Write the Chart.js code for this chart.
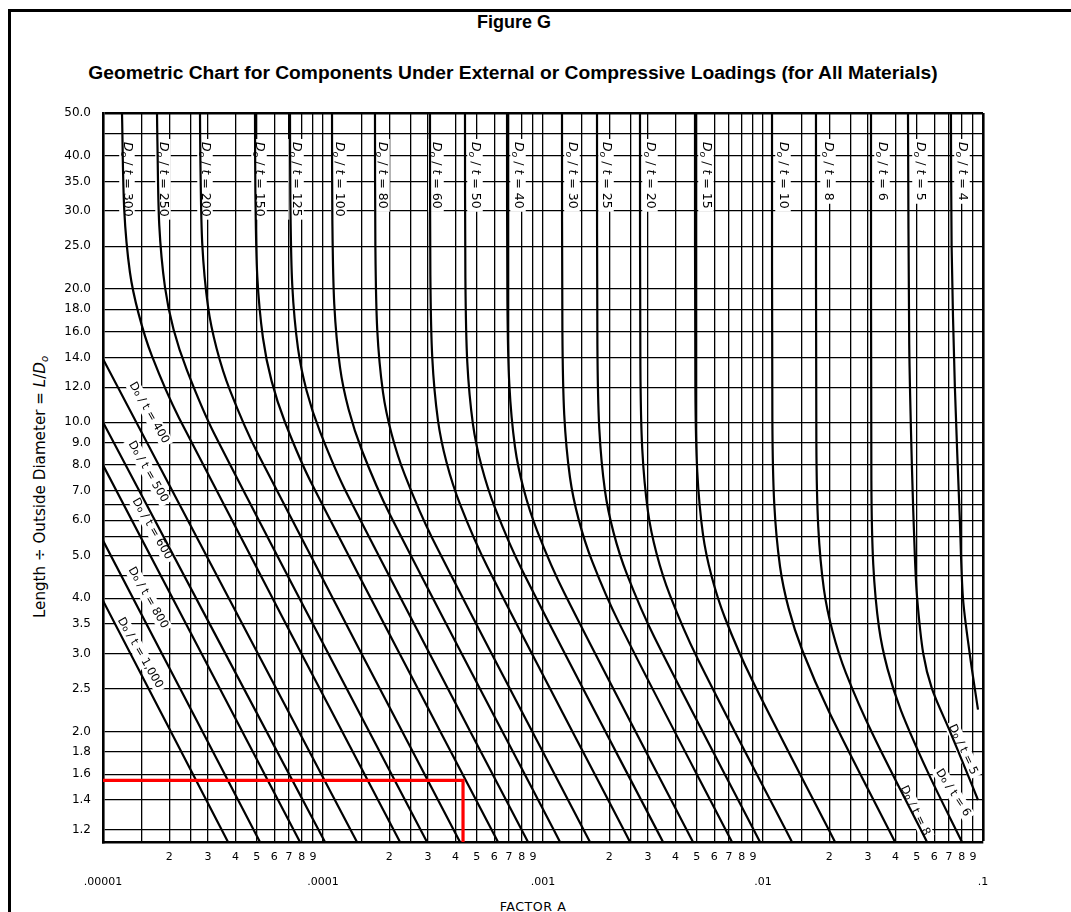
<!DOCTYPE html>
<html>
<head>
<meta charset="utf-8">
<script src="https://cdn.jsdelivr.net/npm/chart.js@4.4.1/dist/chart.umd.min.js"></script>
<style>
  html, body { margin: 0; padding: 0; background: #fff; }
  body { width: 1071px; height: 912px; position: relative; overflow: hidden; font-family: 'DejaVu Sans', sans-serif; }
  #grafico { position: absolute; left: 0; top: 0; }
  #marco { position: absolute; left: 8px; top: 9px; width: 1200px; height: 1000px; border-top: 3px solid #000; border-left: 3px solid #000; }
  .txt { position: absolute; white-space: nowrap; transform: translate(-50%, -50%); color: #000; }
  #fig { left: 514px; top: 22px; font: bold 18px 'Liberation Sans', Arial, sans-serif; }
  #sub { left: 513px; top: 73px; font: bold 18px 'Liberation Sans', Arial, sans-serif; }
  #ytit { left: 40px; top: 487px; font-size: 14px; transform: translate(-50%, -50%) rotate(-90deg); }
  #ytit sub { font-size: 10px; vertical-align: -3px; line-height: 0; }
  #xtit { left: 533px; top: 906px; font-size: 12.5px; letter-spacing: 0.5px; }
</style>
</head>
<body>
<div id="marco"></div>
<div class="txt" id="fig">Figure G</div>
<div class="txt" id="sub">Geometric Chart for Components Under External or Compressive Loadings (for All Materials)</div>
<div class="txt" id="ytit">Length ÷ Outside Diameter = <i>L</i>/<i>D<sub>o</sub></i></div>
<div class="txt" id="xtit">FACTOR A</div>
<canvas id="grafico" width="1071" height="912"></canvas>
<script>
// ejes
const aMin = 1e-5, aMax = 0.1;
const ldMin = 1.125, ldMax = 50;

const ldGrid = [50, 45, 40, 35, 30, 25, 20, 18, 16, 14, 12, 10, 9, 8, 7, 6.5, 6, 5.5, 5, 4.5, 4, 3.5, 3, 2.5, 2, 1.8, 1.6, 1.4, 1.2];
const ldLabelled = [50, 40, 35, 30, 25, 20, 18, 16, 14, 12, 10, 9, 8, 7, 6, 5, 4, 3.5, 3, 2.5, 2, 1.8, 1.6, 1.4, 1.2];

const decades = [1e-5, 1e-4, 1e-3, 1e-2];
const decadeText = ['.00001', '.0001', '.001', '.01', '.1'];
const mantissas = [1, 1.5, 2, 2.5, 3, 4, 5, 6, 7, 8, 9];
const mantissaText = ['', '', '2', '', '3', '4', '5', '6', '7', '8', '9'];

// curvas Do/t : pares [factor A, L/Do]
const dt1000 = [[1e-5, 3.95], [3.70e-5, 1.125]];
const dt800 = [[1e-5, 5.4], [5.17e-5, 1.125]];
const dt600 = [[1e-5, 8.0], [7.86e-5, 1.125]];
const dt500 = [[1e-5, 10.0], [1.021e-4, 1.125]];
const dt400 = [[1e-5, 13.9], [1.427e-4, 1.125]];
const dt300 = [[1.220e-5, 50], [1.249e-5, 30.2], [1.326e-5, 21.8], [1.451e-5, 17.6], [1.670e-5, 14.1], [2.222e-5, 10.2], [2.239e-4, 1.125]];
const dt250 = [[1.760e-5, 50], [1.767e-5, 43.2], [1.802e-5, 27.9], [1.913e-5, 20.2], [2.093e-5, 16.2], [2.409e-5, 13.1], [3.205e-5, 9.42], [2.970e-4, 1.125]];
const dt200 = [[2.760e-5, 50], [2.771e-5, 39.1], [2.826e-5, 25.3], [3.000e-5, 18.3], [3.282e-5, 14.7], [3.778e-5, 11.8], [5.026e-5, 8.54], [4.195e-4, 1.125]];
const dt150 = [[4.908e-5, 50], [4.928e-5, 33.1], [5.026e-5, 21.4], [5.335e-5, 15.5], [5.836e-5, 12.4], [6.719e-5, 10.0], [8.937e-5, 7.22], [6.245e-4, 1.125]];
const dt125 = [[7.079e-5, 50], [7.107e-5, 31.5], [7.249e-5, 20.4], [7.695e-5, 14.7], [8.417e-5, 11.8], [9.691e-5, 9.52], [1.289e-4, 6.87], [8.548e-4, 1.125]];
const dt100 = [[1.099e-4, 50], [1.103e-4, 28.5], [1.125e-4, 18.5], [1.195e-4, 13.3], [1.307e-4, 10.7], [1.505e-4, 8.62], [2.001e-4, 6.23], [1.195e-3, 1.125]];
const dt80 = [[1.723e-4, 50], [1.730e-4, 25.1], [1.764e-4, 16.2], [1.873e-4, 11.7], [2.049e-4, 9.42], [2.359e-4, 7.58], [3.138e-4, 5.47], [1.635e-3, 1.125]];
const dt60 = [[3.064e-4, 50], [3.076e-4, 21.6], [3.138e-4, 14.0], [3.331e-4, 10.1], [3.643e-4, 8.12], [4.195e-4, 6.53], [5.580e-4, 4.72], [2.486e-3, 1.125]];
const dt50 = [[4.420e-4, 50], [4.438e-4, 21.2], [4.526e-4, 13.7], [4.805e-4, 9.89], [5.255e-4, 7.96], [6.051e-4, 6.40], [8.049e-4, 4.62], [3.512e-3, 1.125]];
const dt40 = [[6.863e-4, 50], [6.890e-4, 18.8], [7.028e-4, 12.2], [7.460e-4, 8.79], [8.160e-4, 7.07], [9.395e-4, 5.69], [1.250e-3, 4.11], [4.806e-3, 1.125]];
const dt30 = [[1.220e-3, 50], [1.225e-3, 16.1], [1.249e-3, 10.4], [1.326e-3, 7.51], [1.451e-3, 6.04], [1.670e-3, 4.86], [2.222e-3, 3.51], [7.230e-3, 1.125]];
const dt25 = [[1.760e-3, 50], [1.767e-3, 15.0], [1.802e-3, 9.69], [1.913e-3, 7.00], [2.093e-3, 5.63], [2.409e-3, 4.53], [3.205e-3, 3.27], [9.692e-3, 1.125]];
const dt20 = [[2.760e-3, 50], [2.771e-3, 13.4], [2.826e-3, 8.70], [3.000e-3, 6.28], [3.282e-3, 5.05], [3.778e-3, 4.06], [5.026e-3, 2.93], [1.354e-2, 1.125]];
const dt15 = [[4.908e-3, 50], [4.928e-3, 11.9], [5.026e-3, 7.73], [5.335e-3, 5.58], [5.836e-3, 4.49], [6.719e-3, 3.61], [8.937e-3, 2.61], [2.125e-2, 1.125]];
const dt10 = [[1.099e-2, 50], [1.103e-2, 10.1], [1.125e-2, 6.54], [1.195e-2, 4.72], [1.307e-2, 3.80], [1.505e-2, 3.06], [2.001e-2, 2.21], [3.981e-2, 1.125]];
const dt8 = [[1.741e-2, 50], [1.748e-2, 8.96], [1.783e-2, 5.80], [1.892e-2, 4.19], [2.070e-2, 3.37], [2.383e-2, 2.71], [3.170e-2, 1.96], [5.566e-2, 1.125]];
const dt6 = [[3.097e-2, 50], [3.109e-2, 7.37], [3.171e-2, 4.77], [3.366e-2, 3.44], [3.682e-2, 2.77], [4.240e-2, 2.23], [5.640e-2, 1.61], [8.025e-2, 1.125]];
const dt5 = [[4.561e-2, 50], [4.62e-2, 15], [4.75e-2, 8], [4.90e-2, 5], [5.02e-2, 4], [5.35e-2, 3], [5.86e-2, 2.5], [7.08e-2, 2.0], [8.3e-2, 1.65], [9.49e-2, 1.40]];
const dt4 = [[7.15e-2, 50], [7.20e-2, 25], [7.45e-2, 12], [7.85e-2, 6], [8.11e-2, 4], [8.7e-2, 3], [9.49e-2, 2.24]];

// linea roja de lectura
const redPath = [[1e-5, 1.55], [4.33e-4, 1.55], [4.33e-4, 1.125]];

// rotulos
const topLabelDt = ['300', '250', '200', '150', '125', '100', '80', '60', '50', '40', '30', '25', '20', '15', '10', '8', '6', '5', '4'];
const topLabelA = [1.285e-5, 1.874e-5, 2.908e-5, 5.118e-5, 7.540e-5, 1.182e-4, 1.854e-4, 3.263e-4, 4.908e-4, 7.698e-4, 1.354e-3, 1.934e-3, 3.064e-3, 5.506e-3, 1.233e-2, 1.975e-2, 3.475e-2, 5.171e-2, 8.025e-2];
const topLabelLD = 43;
const diagLabelDt = ['400', '500', '600', '800', '1,000'];
const diagLabelA = [1.618e-5, 1.601e-5, 1.670e-5, 1.601e-5, 1.473e-5];
const diagLabelLD = [10.5, 7.73, 5.74, 4.01, 3.01];
const lowLabelDt = ['5', '6', '8'];
const lowLabelA = [0.0811, 0.0731, 0.0491];
const lowLabelLD = [1.82, 1.454, 1.324];

const curves = [dt1000, dt800, dt600, dt500, dt400, dt300, dt250, dt200, dt150, dt125, dt100, dt80,
  dt60, dt50, dt40, dt30, dt25, dt20, dt15, dt10, dt8, dt6, dt5, dt4];

const xTicks = [];
decades.forEach((d, i) => {
  mantissas.forEach((m, j) => {
    xTicks.push({ value: m * d, txt: j === 0 ? ['', decadeText[i]] : mantissaText[j] });
  });
});
xTicks.push({ value: aMax, txt: ['', decadeText[4]] });

const fitText = (id, target) => {
  const el = document.getElementById(id);
  const size = parseFloat(getComputedStyle(el).fontSize);
  el.style.fontSize = (size * target / el.offsetWidth) + 'px';
};
fitText('sub', 849);
fitText('ytit', 263);
fitText('xtit', 67);

function partsFor(num, italic, plainO) {
  return [
    { t: 'D', it: italic },
    { t: 'o', it: italic, sub: !plainO, small: true },
    { t: ' / ', it: false },
    { t: 't', it: italic },
    { t: ' = ' + num, it: false }
  ];
}

function drawTag(ctx, parts, x, y, angle, size, anchor) {
  const fam = "'DejaVu Sans', sans-serif";
  ctx.save();
  ctx.translate(x, y);
  ctx.rotate(angle * Math.PI / 180);
  const fontOf = p => (p.it ? 'italic ' : '') + (p.small ? size * 0.75 : size) + 'px ' + fam;
  const widths = parts.map(p => { ctx.font = fontOf(p); return ctx.measureText(p.t).width; });
  const w = widths.reduce((a, b) => a + b, 0);
  let cx = anchor === 'start' ? 0 : -w / 2;
  ctx.fillStyle = '#fff';
  ctx.fillRect(cx - 3, -size * 0.62, w + 6, size * 1.24);
  ctx.fillStyle = '#000';
  ctx.textBaseline = 'middle';
  parts.forEach((p, i) => {
    ctx.font = fontOf(p);
    ctx.fillText(p.t, cx, p.sub ? size * 0.28 : (p.small ? size * 0.08 : 0));
    cx += widths[i];
  });
  ctx.restore();
}

const tagPlugin = {
  id: 'tags',
  beforeDatasetsDraw(chart) {
    const { ctx, scales: { x, y } } = chart;
    topLabelDt.forEach((d, i) => {
      drawTag(ctx, partsFor(d, true, false), x.getPixelForValue(topLabelA[i]), y.getPixelForValue(topLabelLD), 90, 12.5, 'start');
    });
    diagLabelDt.forEach((d, i) => {
      drawTag(ctx, partsFor(d, false, true), x.getPixelForValue(diagLabelA[i]), y.getPixelForValue(diagLabelLD[i]), 60, 11.5, 'center');
    });
    const lowAngles = [65, 57, 64];
    lowLabelDt.forEach((d, i) => {
      drawTag(ctx, partsFor(d, false, true), x.getPixelForValue(lowLabelA[i]), y.getPixelForValue(lowLabelLD[i]), lowAngles[i], 11.5, 'center');
    });
  }
};

const datasets = curves.map(pts => ({
  data: pts.map(([a, ld]) => ({ x: a, y: ld })),
  showLine: true,
  borderColor: '#000',
  borderWidth: 2.2,
  pointRadius: 0,
  tension: 0.3,
  fill: false
}));
datasets.push({
  data: redPath.map(([a, ld]) => ({ x: a, y: ld })),
  showLine: true,
  borderColor: '#ff0000',
  borderWidth: 3.2,
  pointRadius: 0,
  tension: 0,
  order: -1
});

new Chart(document.getElementById('grafico'), {
  type: 'scatter',
  data: { datasets },
  plugins: [tagPlugin],
  options: {
    responsive: false,
    animation: false,
    events: [],
    layout: { padding: { left: 0, right: 88, top: 113, bottom: 0 } },
    plugins: { legend: { display: false }, tooltip: { enabled: false } },
    scales: {
      x: {
        type: 'logarithmic',
        min: aMin,
        max: aMax,
        afterBuildTicks: s => { s.ticks = xTicks.map(t => ({ value: t.value, txt: t.txt })); },
        afterFit: s => { s.height = 70; },
        ticks: {
          autoSkip: false,
          maxRotation: 0,
          minRotation: 0,
          padding: 3,
          color: '#000',
          font: { family: "'DejaVu Sans', sans-serif", size: 11, lineHeight: '25px' },
          callback: (v, i, ticks) => ticks[i].txt
        },
        grid: {
          color: '#000',
          drawTicks: false,
          lineWidth: c => (c.tick && c.tick.value === aMax ? 2.6 : 1.3)
        },
        border: { display: true, color: '#000', width: 2.6 }
      },
      y: {
        type: 'logarithmic',
        min: ldMin,
        max: ldMax,
        afterBuildTicks: s => { s.ticks = ldGrid.map(v => ({ value: v })); },
        afterFit: s => { s.width = 103; },
        ticks: {
          autoSkip: false,
          padding: 12,
          color: '#000',
          font: { family: "'DejaVu Sans', sans-serif", size: 12 },
          callback: v => (ldLabelled.includes(v) ? v.toFixed(1) : '')
        },
        grid: {
          color: '#000',
          drawTicks: false,
          lineWidth: c => (c.tick && c.tick.value === ldMax ? 2.6 : 1.3)
        },
        border: { display: true, color: '#000', width: 2.6 }
      }
    }
  }
});
</script>
</body>
</html>
